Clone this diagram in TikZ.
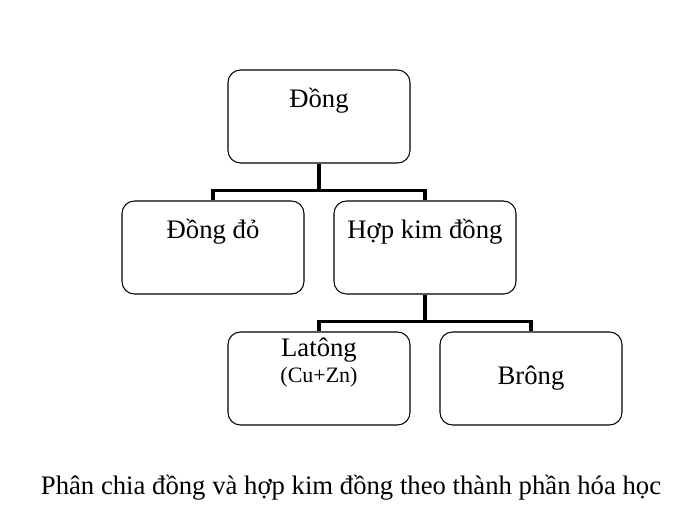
\documentclass[tikz,border=0pt]{standalone}
\usepackage{fontspec}
\setmainfont{Liberation Serif}
\begin{document}
\begin{tikzpicture}[x=2cm, y=-2cm, font=\fontsize{15.2}{17}\selectfont,
    box/.style={draw, rectangle, rounded corners=0.25cm, line width=0.6pt,
                minimum width=3.64cm, minimum height=1.86cm, align=center, inner sep=0pt},
    link/.style={line width=1.8pt}]
    \useasboundingbox (0,0) rectangle (7,5.2);
    % Nodes
    \node (dong) [box] at (3.19,1.165) {Đồng\\[4pt]};
    \node (dongdo) [box] at (2.13,2.475) {Đồng đỏ\\[4pt]};
    \node (hopkim) [box] at (4.25,2.475) {Hợp kim đồng\\[4pt]};
    \node (laton) [box] at (3.19,3.785) {Latông\\[-2pt]{\fontsize{12.5}{14}\selectfont(Cu+Zn)}\\[4pt]};
    \node (bron) [box] at (5.31,3.785) {Brông};
    \node (caption) at (3.51,4.88) {Phân chia đồng và hợp kim đồng theo thành phần hóa học};

    % Arrows
    \draw[link] (dong.south) -- ++(0,0.27) -| (dongdo.north);
    \draw[link] (dong.south) ++(0,0.27) -| (hopkim.north);
    \draw[link] (hopkim.south) -- ++(0,0.27) -| (laton.north);
    \draw[link] (hopkim.south) ++(0,0.27) -| (bron.north);
\end{tikzpicture}
\end{document}
